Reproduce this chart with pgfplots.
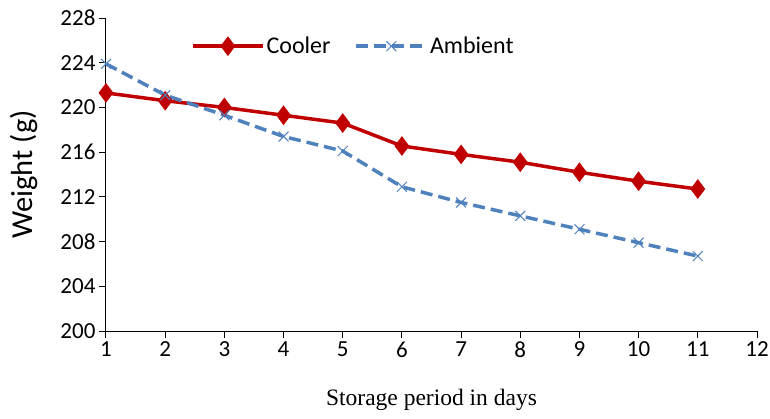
\documentclass[border=0pt]{standalone}
\usepackage{pgfplots}
\pgfplotsset{compat=1.18}
\usepackage{fontspec}
\setmainfont{Carlito}
\newfontfamily\timesfont{Liberation Serif}
\definecolor{cred}{HTML}{C00000}
\definecolor{cblue}{HTML}{4F81BD}
\begin{document}
\begin{tikzpicture}
\begin{axis}[
  scale only axis, width=651pt, height=313pt,
  at={(0,0)}, anchor=south west,
  xmin=1, xmax=12, ymin=200, ymax=228,
  xtick={1,...,12}, ytick={200,204,...,228},
  axis x line=bottom, axis y line=left,
  axis line style={-, line width=1pt, black},
  tick style={line width=1pt, black},
  major tick length=7pt,
  tick align=outside,
  /pgf/number format/assume math mode=true,
  ticklabel style={font=\fontsize{23}{26}\selectfont},
  xlabel={\timesfont\fontsize{23.5}{26}\selectfont Storage period in days},
  ylabel={\fontsize{30.5}{34}\selectfont Weight (g)},
  every axis x label/.style={at={([yshift=-69pt]axis description cs:0.5,0)}, anchor=center},
  every axis y label/.style={at={([xshift=-82pt]axis description cs:0,0.5)}, rotate=90, anchor=center},
  legend columns=2,
  legend style={draw=none, fill=none, at={(0.38,0.91)}, anchor=center,
    font=\fontsize{24}{27}\selectfont,
    /tikz/every even column/.append style={column sep=22pt}},
  legend image code/.code={\draw[mark repeat=2,mark phase=2] plot coordinates {(0pt,0pt) (35pt,0pt) (70pt,0pt)};},
]
\addplot[cred, line width=3.5pt, mark=diamond*, mark size=7pt, mark options={solid, fill=cred}]
  coordinates {(1,221.3) (2,220.6) (3,220.0) (4,219.3) (5,218.6) (6,216.55) (7,215.8) (8,215.1) (9,214.2) (10,213.4) (11,212.7)};
\addlegendentry{Cooler}
\addplot[cblue, line width=3.5pt, dash pattern=on 12pt off 6pt, mark=x, mark size=7pt, mark options={solid, line width=1pt}]
  coordinates {(1,223.9) (2,221.1) (3,219.3) (4,217.4) (5,216.1) (6,212.9) (7,211.5) (8,210.3) (9,209.1) (10,207.9) (11,206.7)};
\addlegendentry{Ambient}
\end{axis}
\pgfresetboundingbox
\useasboundingbox (-106pt,-87pt) rectangle (664pt,331pt);
\end{tikzpicture}
\end{document}
